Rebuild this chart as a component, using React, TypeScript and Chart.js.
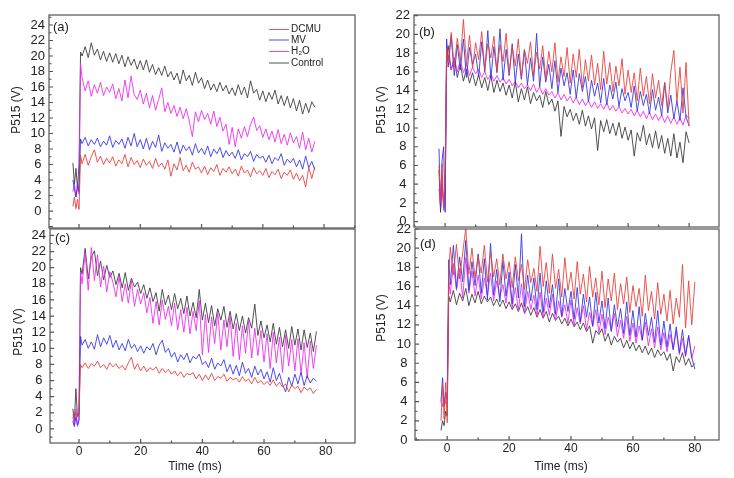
import React, { useEffect, useRef } from "react";
import { Chart, registerables } from "chart.js";
Chart.register(...registerables);

const FONT = "'Liberation Sans', Arial, 'DejaVu Sans', sans-serif";

// ---------- data ----------
const T_AC = [-2, -1.5, -1, -0.5, 0, 0.5,
  1, 2, 3, 4, 5, 6, 7, 8, 9, 10, 11, 12, 13, 14, 15, 16, 17, 18, 19, 20,
  21, 22, 23, 24, 25, 26, 27, 28, 29, 30, 31, 32, 33, 34, 35, 36, 37, 38, 39, 40,
  41, 42, 43, 44, 45, 46, 47, 48, 49, 50, 51, 52, 53, 54, 55, 56, 57, 58, 59, 60,
  61, 62, 63, 64, 65, 66, 67, 68, 69, 70, 71, 72, 73, 74, 75, 76, 77];
const T_BD = [-2, -1.5, -1, -0.5, 0, 0.5,
  1, 2, 3, 4, 5, 6, 7, 8, 9, 10, 11, 12, 13, 14, 15, 16, 17, 18, 19, 20,
  21, 22, 23, 24, 25, 26, 27, 28, 29, 30, 31, 32, 33, 34, 35, 36, 37, 38, 39, 40,
  41, 42, 43, 44, 45, 46, 47, 48, 49, 50, 51, 52, 53, 54, 55, 56, 57, 58, 59, 60,
  61, 62, 63, 64, 65, 66, 67, 68, 69, 70, 71, 72, 73, 74, 75, 76, 77, 78, 79, 80];

const SERIES_LABELS = ["DCMU", "MV", "H₂O", "Control"];
const PANEL_TAGS = ["(a)", "(b)", "(c)", "(d)"];
const Y_TITLE = "P515 (V)";
const X_TITLE = "Time (ms)";
const X_TICK_STEP = 20;
const Y_TICK_STEP = 2;

// panel (a)
const A_DCMU = [0.6, 1.8, 0.3, 1.5, 0.2, 7.2,
  6.1, 7.3, 5.9, 7.0, 7.9, 6.3, 7.1, 6.0, 6.8, 6.2,
  7.0, 5.8, 6.6, 6.1, 7.3, 5.7, 6.9, 6.0, 6.5, 5.6,
  6.7, 5.9, 6.4, 5.5, 6.8, 5.7, 6.2, 5.4, 6.6, 4.5,
  6.1, 5.3, 6.9, 5.2, 5.9, 5.0, 6.3, 5.4, 5.7, 4.9,
  5.8, 4.7, 5.6, 5.1, 6.0, 4.6, 5.5, 5.0, 5.7, 4.8,
  5.4, 4.5, 5.8, 4.9, 5.3, 4.4, 5.6, 4.8, 5.2, 4.6,
  5.5, 4.3, 5.1, 4.7, 5.4, 4.2, 5.0, 4.6, 5.3, 4.1,
  4.9, 3.9, 4.6, 3.1, 5.6, 4.2, 5.7];
const A_MV = [4.0, 2.8, 1.8, 3.5, 2.5, 9.3,
  8.7, 9.5, 8.4, 9.2, 8.6, 9.4, 8.3, 9.0, 8.5, 9.7,
  8.2, 9.1, 8.6, 9.3, 8.1, 9.5, 8.4, 10.0, 8.3, 9.2,
  8.0, 9.4, 7.9, 9.0, 8.2, 9.8, 7.7, 8.8, 8.1, 8.6,
  7.6, 8.9, 7.4, 8.5, 7.8, 8.3, 7.2, 8.7, 7.5, 8.1,
  7.3, 8.4, 7.0, 8.0, 7.4, 8.2, 6.9, 7.8, 7.1, 7.6,
  6.8, 7.9, 6.6, 7.4, 7.0, 7.7, 6.4, 7.3, 6.8, 7.1,
  6.3, 7.2, 6.1, 6.9, 6.5, 7.4, 5.9, 6.7, 6.2, 6.8,
  5.7, 6.6, 5.4, 7.1, 5.6, 6.4, 5.3];
const A_H2O = [2.5, 3.5, 1.8, 3.0, 2.2, 19.0,
  17.2, 15.5, 16.8, 14.8, 16.3, 15.2, 16.6, 14.9, 16.0, 15.3,
  16.4, 14.5, 15.8, 14.2, 16.9, 14.6, 17.4, 15.0, 14.4, 15.6,
  13.8, 15.2, 13.3, 14.9, 13.0, 14.4, 15.9, 12.8, 14.0, 12.6,
  13.6, 12.2, 13.4, 11.9, 13.2, 11.6, 9.6, 12.8, 11.5, 13.0,
  11.8, 12.6, 11.2, 12.9, 10.9, 12.1, 10.3, 11.2, 8.6, 10.8,
  8.3, 10.6, 9.4, 10.9, 9.6, 11.2, 12.1, 10.4, 11.0, 9.5,
  10.6, 9.2, 10.3, 8.9, 10.5, 8.7, 9.9, 8.5, 10.1, 8.8,
  9.6, 8.1, 10.2, 7.9, 9.4, 7.6, 9.0];
const A_CONTROL = [6.2, 3.5, 5.5, 3.0, 6.0, 20.5,
  20.0, 21.2, 19.8, 21.7, 20.1, 20.9, 19.5, 20.6, 19.3, 20.4,
  19.2, 20.3, 19.0, 20.1, 18.6, 19.9, 18.8, 19.6, 18.3, 19.4,
  18.2, 19.5, 17.9, 18.9, 17.6, 18.5, 17.5, 18.7, 17.3, 18.0,
  16.9, 17.8, 16.4, 18.2, 16.8, 17.5, 16.2, 17.9, 16.5, 17.2,
  15.8, 16.9, 15.6, 16.4, 15.4, 16.6, 15.5, 16.2, 15.1, 15.9,
  14.9, 16.3, 15.0, 16.0, 14.6, 16.8, 15.2, 15.7, 14.3, 15.5,
  14.1, 15.3, 14.4, 15.6, 13.8, 14.9, 13.6, 14.8, 13.3, 14.5,
  12.9, 14.3, 12.5, 13.9, 12.7, 14.1, 13.4];

// panel (b)
const B_DCMU = [6.0, 2.0, 6.2, 1.5, 5.0, 18.5,
  17.0, 20.2, 16.5, 19.6, 17.2, 21.6, 16.8, 19.9, 16.4, 19.1,
  17.3, 20.3, 16.2, 19.0, 17.5, 19.8, 16.0, 18.9, 17.1, 20.1,
  15.8, 18.7, 16.6, 19.5, 15.4, 18.4, 16.9, 19.2, 15.6, 18.1,
  16.3, 18.8, 15.2, 18.2, 16.0, 19.1, 14.9, 17.6, 15.5, 18.6,
  14.8, 17.9, 15.4, 18.4, 14.3, 17.3, 15.0, 17.8, 14.6, 16.9,
  14.1, 18.2, 14.7, 17.0, 13.9, 16.6, 14.5, 17.4, 13.6, 16.2,
  13.8, 15.9, 12.9, 16.4, 13.4, 15.5, 12.6, 15.8, 13.2, 15.1,
  12.4, 14.9, 12.1, 16.0, 18.3, 12.8, 16.5, 11.6, 17.0, 10.2];
const B_MV = [7.8, 1.5, 6.5, 8.0, 1.0, 19.5,
  16.5, 19.8, 15.6, 18.9, 16.2, 19.5, 15.4, 18.6, 16.8, 17.9,
  15.5, 19.2, 16.0, 20.4, 15.3, 18.7, 15.9, 20.6, 15.1, 18.4,
  15.6, 19.0, 14.8, 17.9, 15.2, 18.3, 14.6, 17.5, 15.0, 20.1,
  14.4, 17.6, 14.9, 16.8, 14.2, 17.2, 13.8, 16.4, 14.5, 15.9,
  13.6, 16.2, 13.2, 15.8, 13.9, 15.5, 12.8, 15.1, 13.4, 14.8,
  12.7, 15.3, 12.5, 14.6, 13.1, 14.9, 12.3, 14.2, 12.9, 13.8,
  12.2, 14.5, 11.8, 13.9, 12.4, 13.6, 11.5, 14.1, 11.9, 13.3,
  11.3, 14.8, 11.6, 13.5, 11.0, 12.9, 10.8, 14.3, 11.2, 10.2];
const B_H2O = [3.5, 1.5, 5.0, 1.2, 2.0, 17.0,
  17.8, 16.2, 17.5, 16.0, 17.2, 15.9, 16.8, 15.6, 16.5, 15.8,
  16.3, 15.4, 16.0, 15.2, 15.8, 15.0, 15.6, 14.9, 15.4, 14.7,
  15.2, 14.5, 15.0, 14.3, 14.8, 14.2, 14.6, 14.0, 14.7, 13.8,
  14.4, 13.6, 14.2, 13.5, 13.9, 13.2, 13.8, 13.0, 13.6, 12.9,
  13.4, 12.7, 13.3, 12.5, 13.1, 12.4, 12.9, 12.2, 12.8, 12.1,
  12.6, 12.0, 12.7, 11.9, 12.4, 11.8, 12.3, 11.6, 12.1, 11.5,
  12.0, 11.3, 11.9, 11.2, 11.8, 11.0, 11.7, 10.9, 11.5, 10.8,
  11.4, 10.6, 11.3, 10.5, 11.2, 10.4, 11.1, 10.3, 11.4, 11.0];
const B_CONTROL = [5.5, 1.0, 4.0, 2.0, 3.0, 17.5,
  18.8, 16.2, 17.5, 15.4, 16.8, 15.0, 16.3, 14.8, 15.9, 14.5,
  15.7, 14.3, 15.4, 14.0, 15.6, 13.8, 15.1, 13.9, 14.8, 13.5,
  14.6, 13.2, 14.9, 12.8, 14.2, 13.0, 14.4, 12.6, 13.8, 12.9,
  13.5, 12.2, 13.9, 12.5, 13.1, 11.8, 12.9, 9.1, 12.3, 11.2,
  12.0, 10.8, 11.6, 10.4, 11.9, 10.2, 11.3, 9.9, 11.1, 7.6,
  10.8, 9.6, 10.9, 9.4, 10.5, 9.2, 10.6, 8.9, 10.1, 8.7,
  9.8, 7.0, 9.5, 8.6, 10.3, 8.2, 9.4, 7.9, 9.7, 7.8,
  9.2, 7.3, 8.9, 7.0, 9.4, 6.8, 8.5, 6.3, 9.6, 8.4];

// panel (c)
const C_DCMU = [1.8, 1.3, 2.0, 1.5, 1.8, 8.0,
  7.6, 8.2, 7.5, 8.1, 7.8, 8.4, 7.6, 8.0, 7.4, 8.2,
  7.7, 8.1, 7.5, 7.9, 7.3, 8.2, 8.9, 7.4, 8.1, 7.2,
  7.8, 7.1, 7.6, 7.3, 7.7, 6.9, 7.5, 7.0, 7.4, 6.8,
  7.2, 6.6, 7.1, 6.4, 6.9, 6.7, 7.0, 6.2, 6.8, 6.0,
  6.7, 6.1, 6.9, 6.0, 6.5, 6.3, 6.8, 5.9, 6.4, 6.1,
  6.3, 5.8, 6.5, 5.9, 6.2, 5.6, 6.4, 5.7, 6.0, 5.5,
  5.9, 5.4, 6.1, 5.3, 5.8, 5.2, 5.6, 4.6, 5.5, 5.0,
  5.3, 4.5, 5.2, 4.8, 5.1, 4.4, 4.9];
const C_MV = [1.0, 0.3, 1.5, 0.5, 1.2, 11.5,
  10.4, 11.1, 10.0, 10.8, 9.9, 11.7, 10.2, 11.3, 10.5, 11.6,
  10.1, 11.0, 9.8, 10.6, 9.7, 11.1, 10.0, 10.5, 9.6, 10.3,
  9.4, 10.2, 9.8, 10.6, 9.2, 10.4, 11.0, 9.5, 10.0, 8.9,
  9.5, 8.3, 9.2, 8.6, 9.4, 8.2, 9.0, 8.7, 9.3, 8.0,
  8.4, 7.6, 8.8, 7.4, 8.2, 7.8, 8.6, 7.1, 8.0, 6.8,
  7.9, 6.6, 8.3, 6.9, 7.5, 6.4, 7.8, 6.7, 7.4, 6.2,
  7.1, 5.8, 7.6, 6.0, 6.9, 5.5, 4.6, 6.4, 5.3, 6.8,
  5.6, 7.0, 5.4, 6.6, 5.7, 6.3, 5.9];
const C_H2O = [1.5, 0.5, 2.5, 0.3, 1.0, 19.5,
  18.0, 21.8, 17.2, 22.5, 18.4, 21.6, 17.6, 20.2, 17.0, 19.5,
  18.2, 16.4, 18.9, 15.8, 18.0, 15.6, 18.4, 15.2, 17.3, 15.5,
  16.9, 14.4, 16.3, 13.1, 15.8, 12.9, 16.0, 13.6, 15.2, 12.8,
  15.6, 12.3, 14.8, 12.0, 15.1, 11.8, 14.6, 12.2, 15.9, 9.2,
  14.2, 9.5, 13.9, 10.6, 14.4, 9.8, 13.5, 10.2, 14.0, 9.0,
  13.1, 8.6, 12.8, 9.4, 13.4, 8.8, 12.5, 9.1, 12.2, 8.3,
  11.8, 7.5, 12.0, 8.2, 11.4, 7.0, 11.6, 7.8, 11.1, 7.2,
  11.2, 6.8, 10.7, 6.3, 10.9, 7.5, 10.4];
const C_CONTROL = [2.5, 1.0, 5.0, 1.5, 2.0, 20.0,
  19.2, 22.4, 18.6, 21.3, 22.1, 19.0, 20.8, 18.5, 20.3, 18.8,
  19.6, 17.9, 19.3, 17.5, 19.4, 17.2, 18.7, 17.6, 18.2, 16.8,
  17.9, 16.2, 17.5, 15.8, 16.9, 14.6, 17.3, 15.4, 16.6, 14.8,
  16.8, 14.9, 16.2, 14.3, 16.5, 14.0, 15.7, 13.8, 17.3, 13.5,
  15.6, 13.2, 15.3, 12.8, 14.9, 13.5, 15.2, 12.6, 14.6, 12.4,
  14.3, 12.2, 14.0, 11.9, 13.8, 12.5, 15.5, 11.6, 13.4, 11.3,
  12.9, 10.8, 13.1, 10.5, 12.6, 10.2, 12.3, 10.0, 12.7, 10.4,
  12.4, 9.8, 12.3, 10.1, 11.9, 9.6, 12.1];

// panel (d)
const D_DCMU = [2.0, 5.8, 2.2, 6.0, 1.8, 17.5,
  20.1, 17.2, 20.4, 16.8, 19.5, 22.1, 17.3, 20.0, 16.9, 19.2,
  17.4, 20.3, 16.5, 19.7, 17.0, 18.9, 16.2, 19.4, 16.8, 18.6,
  15.9, 19.1, 16.6, 18.3, 15.7, 18.8, 16.4, 17.9, 15.5, 20.2,
  16.0, 18.5, 15.3, 19.4, 15.8, 17.8, 14.9, 19.0, 15.6, 17.5,
  14.7, 18.6, 15.2, 17.3, 14.4, 18.1, 14.9, 16.9, 14.1, 17.6,
  13.8, 16.8, 14.5, 17.4, 13.6, 16.3, 14.2, 17.0, 13.3, 16.1,
  13.9, 15.8, 12.9, 17.2, 13.5, 15.5, 12.6, 16.4, 13.1, 15.2,
  12.4, 15.6, 12.1, 14.8, 12.8, 18.3, 11.7, 16.6, 12.0, 16.5];
const D_MV = [4.0, 6.5, 3.5, 5.0, 4.2, 18.8,
  16.2, 20.3, 15.8, 19.1, 16.5, 20.8, 15.6, 18.6, 16.1, 19.4,
  15.3, 18.9, 14.6, 20.5, 15.1, 17.8, 14.4, 18.7, 15.0, 17.5,
  14.2, 18.3, 14.8, 21.5, 13.9, 17.2, 14.5, 16.9, 13.6, 17.4,
  13.3, 16.6, 13.8, 16.2, 13.1, 16.8, 12.9, 15.8, 13.4, 15.5,
  12.6, 15.9, 12.3, 15.2, 12.8, 14.9, 11.9, 15.4, 12.2, 14.5,
  11.6, 14.8, 11.3, 14.1, 11.8, 13.7, 11.1, 14.4, 10.9, 13.5,
  10.7, 13.9, 10.4, 13.2, 10.9, 12.8, 10.2, 13.5, 9.9, 12.4,
  9.7, 12.1, 9.4, 11.8, 9.1, 11.5, 8.8, 10.9, 8.6, 7.4];
const D_H2O = [4.0, 3.5, 4.5, 3.8, 4.2, 16.5,
  15.2, 18.4, 15.6, 17.9, 14.8, 19.0, 15.3, 17.6, 15.0, 17.2,
  14.7, 16.9, 15.1, 17.4, 14.5, 16.6, 14.9, 16.2, 14.3, 16.8,
  13.8, 15.9, 13.5, 16.3, 13.2, 15.5, 13.6, 15.1, 12.9, 15.4,
  12.7, 14.8, 13.0, 15.2, 12.4, 14.5, 12.8, 14.1, 12.2, 14.6,
  11.9, 13.8, 12.1, 14.0, 11.5, 13.3, 11.8, 13.6, 11.2, 13.1,
  11.0, 12.8, 11.4, 13.2, 10.8, 12.5, 10.6, 12.9, 10.3, 12.2,
  10.1, 11.9, 10.4, 12.3, 9.8, 11.6, 9.6, 11.8, 9.4, 11.2,
  9.2, 11.0, 9.5, 11.4, 8.9, 10.6, 8.7, 10.9, 8.5, 9.8];
const D_CONTROL = [1.0, 2.0, 1.5, 3.0, 2.5, 15.0,
  14.4, 15.6, 14.1, 15.3, 14.5, 15.8, 14.0, 15.2, 14.3, 15.5,
  14.2, 15.0, 14.4, 14.9, 14.0, 14.7, 13.9, 14.6, 13.7, 14.4,
  13.6, 14.2, 13.4, 14.3, 13.2, 13.9, 13.0, 13.8, 12.8, 13.6,
  12.7, 13.4, 12.3, 13.2, 12.5, 12.9, 12.1, 12.7, 11.9, 12.6,
  11.8, 12.3, 11.5, 12.2, 11.3, 11.9, 10.1, 11.4, 11.0, 11.6,
  10.3, 11.1, 9.9, 10.8, 10.2, 10.6, 9.6, 10.4, 9.5, 10.2,
  9.3, 9.9, 9.1, 9.8, 8.9, 9.6, 8.6, 9.4, 8.8, 9.2,
  8.3, 9.0, 7.2, 8.7, 8.1, 9.1, 7.8, 8.5, 7.6, 8.0];

// ---------- styling / layout ----------
const COLORS = [
  "rgba(232,64,60,0.88)",
  "rgba(52,52,228,0.88)",
  "rgba(236,44,236,0.88)",
  "rgba(58,58,58,0.88)",
];
const W = 734;
const H = 478;
const YW = 40;
const XH = 20;

type Panel = {
  tag: string;
  t: number[];
  series: number[][];
  area: { l: number; t: number; r: number; b: number };
  xr: [number, number];
  yr: [number, number];
  showX: boolean;
  legend: boolean;
  tagPos: [number, number];
  yTitlePos: [number, number];
  xTitlePos?: [number, number];
};

const PANELS: Panel[] = [
  {
    tag: PANEL_TAGS[0], t: T_AC, series: [A_DCMU, A_MV, A_H2O, A_CONTROL],
    area: { l: 49, t: 15, r: 355, b: 228 }, xr: [-9.8, 90.1], yr: [-2.19, 25.29],
    showX: false, legend: true, tagPos: [53, 27], yTitlePos: [17, 110],
  },
  {
    tag: PANEL_TAGS[1], t: T_BD, series: [B_DCMU, B_MV, B_H2O, B_CONTROL],
    area: { l: 414, t: 15, r: 719, b: 227 }, xr: [-10.2, 89.8], yr: [-0.57, 22.07],
    showX: false, legend: false, tagPos: [419, 32], yTitlePos: [382, 110],
  },
  {
    tag: PANEL_TAGS[2], t: T_AC, series: [C_DCMU, C_MV, C_H2O, C_CONTROL],
    area: { l: 50, t: 229, r: 355, b: 443 }, xr: [-9.4, 89.5], yr: [-1.74, 24.8],
    showX: true, legend: false, tagPos: [55, 238], yTitlePos: [19, 332], xTitlePos: [195, 467],
  },
  {
    tag: PANEL_TAGS[3], t: T_BD, series: [D_DCMU, D_MV, D_H2O, D_CONTROL],
    area: { l: 415, t: 229, r: 719, b: 440 }, xr: [-10.4, 87.8], yr: [0, 22.0],
    showX: true, legend: false, tagPos: [420, 244], yTitlePos: [382, 318], xTitlePos: [561, 467],
  },
];

const LEGEND_X = [269, 289, 291];
const LEGEND_Y = [29.5, 40, 51.5, 63];

function decoPlugin(p: Panel) {
  return {
    id: "deco",
    afterDraw(chart: any) {
      const ctx = chart.ctx;
      const { left, top, right, bottom } = chart.chartArea;
      const xs = chart.scales.x;
      const ys = chart.scales.y;
      ctx.save();
      ctx.strokeStyle = "#555";
      ctx.lineWidth = 1.2;
      ctx.beginPath();
      for (let v = Math.ceil(ys.min); v <= ys.max; v++) {
        const py = ys.getPixelForValue(v);
        const len = v % 2 === 0 ? 4 : 2.5;
        ctx.moveTo(left, py);
        ctx.lineTo(left + len, py);
      }
      for (let v = Math.ceil(xs.min / 10) * 10; v < xs.max; v += 10) {
        const px = xs.getPixelForValue(v);
        const len = v % 20 === 0 ? 4 : 2.5;
        ctx.moveTo(px, bottom);
        ctx.lineTo(px, bottom - len);
      }
      ctx.stroke();
      ctx.strokeRect(left, top, right - left, bottom - top);

      ctx.fillStyle = "#222";
      ctx.textBaseline = "middle";
      ctx.textAlign = "left";
      ctx.font = `13px ${FONT}`;
      ctx.fillText(p.tag, p.tagPos[0], p.tagPos[1]);

      ctx.font = `12px ${FONT}`;
      ctx.save();
      ctx.translate(p.yTitlePos[0], p.yTitlePos[1]);
      ctx.rotate(-Math.PI / 2);
      ctx.textAlign = "center";
      ctx.fillText(Y_TITLE, 0, 0);
      ctx.restore();

      if (p.xTitlePos) {
        ctx.textAlign = "center";
        ctx.fillText(X_TITLE, p.xTitlePos[0], p.xTitlePos[1]);
      }

      if (p.legend) {
        ctx.font = `10px ${FONT}`;
        ctx.textAlign = "left";
        SERIES_LABELS.forEach((lab, i) => {
          const y = LEGEND_Y[i];
          ctx.strokeStyle = COLORS[i];
          ctx.lineWidth = 1;
          ctx.beginPath();
          ctx.moveTo(LEGEND_X[0], y);
          ctx.lineTo(LEGEND_X[1], y);
          ctx.stroke();
          ctx.fillStyle = "#222";
          ctx.fillText(lab, LEGEND_X[2], y);
        });
      }
      ctx.restore();
    },
  };
}

function PanelChart({ p }: { p: Panel }) {
  const ref = useRef<HTMLCanvasElement | null>(null);
  useEffect(() => {
    if (!ref.current) return;
    const datasets = p.series.map((vals, i) => ({
      label: SERIES_LABELS[i],
      data: p.t.map((t, j) => ({ x: t, y: vals[j] })),
      borderColor: COLORS[i],
      backgroundColor: COLORS[i],
      borderWidth: 1,
      pointRadius: 0,
      tension: 0,
      fill: false,
    }));
    const tickFont = { family: FONT, size: 12 };
    const chart = new Chart(ref.current, {
      type: "line",
      data: { datasets },
      options: {
        animation: false,
        responsive: false,
        maintainAspectRatio: false,
        devicePixelRatio: 1,
        events: [],
        layout: {
          padding: {
            left: p.area.l - YW,
            top: p.area.t,
            right: W - p.area.r,
            bottom: H - p.area.b - XH,
          },
        },
        plugins: { legend: { display: false }, tooltip: { enabled: false } },
        scales: {
          x: {
            type: "linear",
            min: p.xr[0],
            max: p.xr[1],
            afterFit: (s: any) => { s.height = XH; },
            grid: { display: false, drawTicks: false },
            border: { display: false },
            ticks: {
              display: p.showX,
              stepSize: X_TICK_STEP,
              includeBounds: false,
              autoSkip: false,
              maxRotation: 0,
              padding: 1,
              font: tickFont,
              color: "#222",
            },
          },
          y: {
            type: "linear",
            min: p.yr[0],
            max: p.yr[1],
            afterFit: (s: any) => { s.width = YW; },
            afterBuildTicks: (s: any) => { s.ticks = s.ticks.filter((tk: any) => tk.value >= 0); },
            grid: { display: false, drawTicks: false },
            border: { display: false },
            ticks: {
              stepSize: Y_TICK_STEP,
              includeBounds: false,
              autoSkip: false,
              crossAlign: "center",
              padding: 4,
              font: { family: FONT, size: 13 },
              color: "#222",
            },
          },
        },
      } as any,
      plugins: [decoPlugin(p)],
    });
    return () => chart.destroy();
  }, [p]);
  return (
    <canvas
      ref={ref}
      width={W}
      height={H}
      style={{ position: "absolute", left: 0, top: 0, width: W, height: H }}
    />
  );
}

export default function App() {
  return (
    <div style={{ position: "fixed", left: 0, top: 0, width: W, height: H, background: "#fff" }}>
      {PANELS.map((p, i) => (
        <PanelChart key={i} p={p} />
      ))}
    </div>
  );
}
